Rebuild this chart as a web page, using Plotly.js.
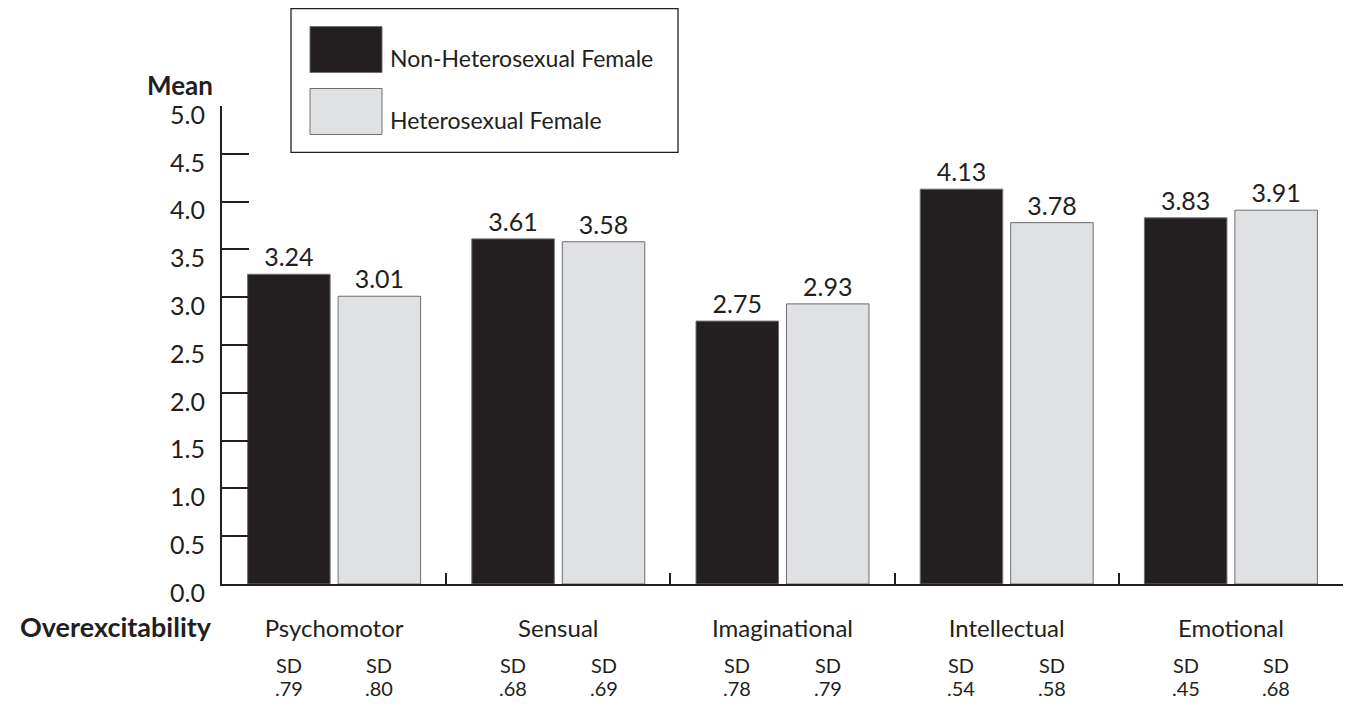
<!DOCTYPE html>
<html>
<head>
<meta charset="utf-8">
<script src="https://cdn.plot.ly/plotly-3.0.1.min.js"></script>
<style>html,body{margin:0;padding:0;background:#fff;}#chart{width:1353px;height:704px;}</style>
</head>
<body>
<div id="chart"></div>
<script>
// ---- data ----
const categories = ["Psychomotor", "Sensual", "Imaginational", "Intellectual", "Emotional"];
const seriesNames = ["Non-Heterosexual Female", "Heterosexual Female"];
const nonHeteroMeans = [3.24, 3.61, 2.75, 4.13, 3.83];
const heteroMeans = [3.01, 3.58, 2.93, 3.78, 3.91];
const nonHeteroSD = [".79", ".68", ".78", ".54", ".45"];
const heteroSD = [".80", ".69", ".79", ".58", ".68"];
const yTickVals = [0, 0.5, 1, 1.5, 2, 2.5, 3, 3.5, 4, 4.5, 5];
const yTickText = ["0.0", "0.5", "1.0", "1.5", "2.0", "2.5", "3.0", "3.5", "4.0", "4.5", "5.0"];
const yTitle = "Mean";
const xTitle = "Overexcitability";

// ---- style ----
const W = 1353, H = 704;
const M = {l: 222, r: 10, t: 105.5, b: 120};
const FONT = "Lato, 'Noto Sans', sans-serif";
const INK = "#231f20";
const DARK = "#231f20";
const LIGHT = "#e0e1e3";
const EDGE = "#6d6e70";
const BARGAP = 0.193;
const GROUPGAP = 0.088;

const pw = W - M.l - M.r, ph = H - M.t - M.b;
const px = x => (x - M.l) / pw;
const py = y => (H - M.b - y) / ph;

const traces = [
  {type: "bar", name: seriesNames[0], x: categories, y: nonHeteroMeans,
   marker: {color: DARK, line: {color: EDGE, width: 1}},
   text: nonHeteroMeans.map(v => v.toFixed(2)), textposition: "outside",
   textfont: {family: FONT, size: 25, color: INK}, cliponaxis: false, hoverinfo: "skip"},
  {type: "bar", name: seriesNames[1], x: categories, y: heteroMeans,
   marker: {color: LIGHT, line: {color: EDGE, width: 1}},
   text: heteroMeans.map(v => v.toFixed(2)), textposition: "outside",
   textfont: {family: FONT, size: 25, color: INK}, cliponaxis: false, hoverinfo: "skip"}
];

const slot = (1 - BARGAP) / 2;
const annotations = [];
categories.forEach((c, i) => {
  [[nonHeteroSD[i], i - slot / 2], [heteroSD[i], i + slot / 2]].forEach(([sd, xc]) => {
    annotations.push({x: xc, xref: "x", y: py(665), yref: "paper", text: "SD", showarrow: false,
      font: {family: FONT, size: 20, color: INK}, xanchor: "center", yanchor: "middle"});
    annotations.push({x: xc, xref: "x", y: py(688), yref: "paper", text: sd, showarrow: false,
      font: {family: FONT, size: 20, color: INK}, xanchor: "center", yanchor: "middle"});
  });
});
annotations.push({x: px(215), y: py(84), xref: "paper", yref: "paper", text: "<b>" + yTitle + "</b>",
  showarrow: false, xanchor: "right", yanchor: "middle", font: {family: FONT, size: 26, color: INK}});
annotations.push({x: px(214), y: py(627), xref: "paper", yref: "paper", text: "<b>" + xTitle + "</b>",
  showarrow: false, xanchor: "right", yanchor: "middle", font: {family: FONT, size: 27, color: INK}});
// legend text
annotations.push({x: px(388), y: py(57), xref: "paper", yref: "paper", text: seriesNames[0],
  showarrow: false, xanchor: "left", yanchor: "middle", font: {family: FONT, size: 23, color: INK}});
annotations.push({x: px(388), y: py(120), xref: "paper", yref: "paper", text: seriesNames[1],
  showarrow: false, xanchor: "left", yanchor: "middle", font: {family: FONT, size: 23, color: INK}});

const shapes = [
  {type: "rect", xref: "paper", yref: "paper", x0: px(291), x1: px(678), y0: py(8), y1: py(152),
   line: {color: INK, width: 1.3}, fillcolor: "rgba(0,0,0,0)"},
  {type: "rect", xref: "paper", yref: "paper", x0: px(310), x1: px(382), y0: py(26), y1: py(72),
   line: {color: EDGE, width: 1}, fillcolor: DARK},
  {type: "rect", xref: "paper", yref: "paper", x0: px(310), x1: px(382), y0: py(88), y1: py(134),
   line: {color: EDGE, width: 1}, fillcolor: LIGHT}
];

const layout = {
  width: W, height: H, margin: M,
  paper_bgcolor: "#fff", plot_bgcolor: "#fff",
  barmode: "group", bargap: BARGAP, bargroupgap: GROUPGAP,
  showlegend: false,
  font: {family: FONT, size: 22, color: INK},
  xaxis: {type: "category", range: [-0.5, 4.5], showline: true, linecolor: INK, linewidth: 2,
    ticks: "inside", tickson: "boundaries", ticklen: 11, tickwidth: 2, tickcolor: INK,
    showgrid: false, zeroline: false, tickfont: {family: FONT, size: 24, color: INK},
    ticklabelstandoff: 22, fixedrange: true},
  yaxis: {range: [0, 5], tickvals: yTickVals, ticktext: yTickText, showline: true, linecolor: INK,
    linewidth: 2, ticks: "inside", ticklen: 27, tickwidth: 2, tickcolor: INK, showgrid: false,
    zeroline: false, tickfont: {family: FONT, size: 25, color: INK}, ticklabelstandoff: 10,
    ticklabelshift: 9, fixedrange: true},
  annotations: annotations,
  shapes: shapes
};

Plotly.newPlot("chart", traces, layout, {staticPlot: true, displayModeBar: false});
</script>
</body>
</html>
